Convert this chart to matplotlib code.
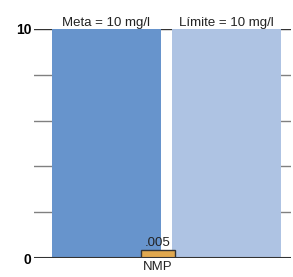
import matplotlib.pyplot as plt

plt.rcParams['font.family'] = ['Liberation Sans', 'DejaVu Sans']

# datos
etiquetas = ["Meta = 10 mg/l", "Límite = 10 mg/l"]
valores = [10, 10]
colores = ["#6794cc", "#aec3e3"]
nmp_valor = 0.005
nmp_texto = ".005"
nmp_etiqueta = "NMP"
yticks = [0, 2, 4, 6, 8, 10]
ytick_labels = ["0", "", "", "", "", "10"]

fig = plt.figure(figsize=(2.93, 2.77), dpi=100)
ax = fig.add_axes([34/293, 19/277, 257/293, 229/277])

x_barras = [0, 1]
ancho = 0.908
ax.bar(x_barras, valores, width=ancho, color=colores, zorder=2)

# barra NMP, con altura minima para que se vea
alto_min = 0.33
ax.bar([0.43], [max(nmp_valor, alto_min)], width=0.283, color="#e0a84f",
       edgecolor="#333333", linewidth=1, zorder=3)

ax.set_xlim(-0.604, 1.5375)
ax.set_ylim(0, 10)

# lineas guia a los lados
for y in yticks[1:-1]:
    ax.axhline(y, xmin=0, xmax=18/257, color="#808080", lw=1, zorder=1)
    ax.axhline(y, xmin=247/257, xmax=1, color="#808080", lw=1, zorder=1)
ax.axhline(10, color="#333333", lw=1, zorder=1)
ax.axhline(0, color="#333333", lw=1.5, zorder=4)

for x, t in zip(x_barras, etiquetas):
    ax.text(x, 10.02, t, ha="center", va="bottom", fontsize=9.5, color="#222222")
ax.text(0.43, 0.38, nmp_texto, ha="center", va="bottom", fontsize=9.5, color="#222222")
ax.text(0.43, -0.12, nmp_etiqueta, ha="center", va="top", fontsize=9.5, color="#222222")

ax.set_yticks(yticks)
ax.set_yticklabels(ytick_labels, fontweight="bold", fontsize=10)
ax.tick_params(axis="y", length=0, pad=2)
ax.set_xticks([])
for s in ax.spines.values():
    s.set_visible(False)

fig.savefig("out.png", dpi=100)
